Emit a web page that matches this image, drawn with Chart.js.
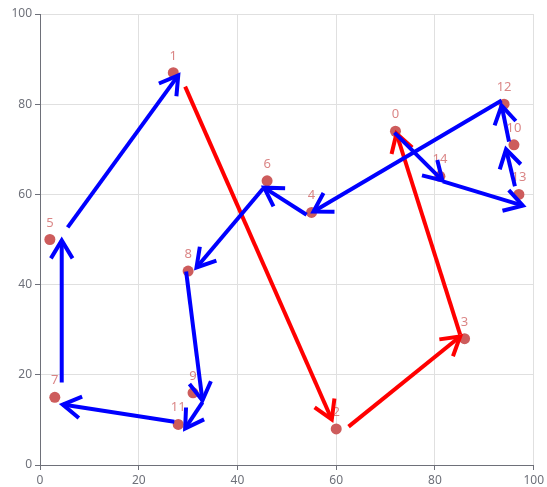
<!DOCTYPE html>
<html>
<head>
<meta charset="utf-8">
<script src="https://cdn.jsdelivr.net/npm/chart.js@4/dist/chart.umd.min.js"></script>
<style>
html, body { margin: 0; padding: 0; background: #fff; }
#wrap { width: 547px; height: 487px; }
</style>
</head>
<body>
<div id="wrap"><canvas id="chart"></canvas></div>
<script>
// points (index label = position in list)
var pointX = [72, 27, 60, 86, 55, 2, 46, 3, 30, 31, 96, 28, 94, 97, 81];
var pointY = [74, 87, 8, 28, 56, 50, 63, 15, 43, 16, 71, 9, 80, 60, 64];

// arrows: start / end in data units, route A or B
var arrowFromX = [85.1, 29.4, 62.5, 71.8, 81.6, 96.2, 95.0, 93.5, 54.0, 45.2, 29.6, 32.9, 27.2, 4.4, 5.6];
var arrowFromY = [28.9, 83.9, 8.5, 73.7, 62.9, 61.8, 71.7, 80.8, 55.5, 61.3, 42.9, 13.9, 9.6, 18.3, 52.7];
var arrowToX = [72.2, 59.1, 85.1, 81.5, 97.8, 94.4, 93.5, 55.4, 45.4, 31.7, 32.9, 29.4, 4.6, 4.4, 28.0];
var arrowToY = [73.5, 10.1, 28.5, 63.1, 57.5, 70.0, 79.7, 56.2, 61.5, 43.8, 14.3, 8.1, 13.4, 49.8, 86.4];
var arrowRoute = ['A', 'A', 'A', 'B', 'B', 'B', 'B', 'B', 'B', 'B', 'B', 'B', 'B', 'B', 'B'];

var routeColors = { A: '#ff0000', B: '#0000ff' };
var FONT = '"Noto Sans", "DejaVu Sans", sans-serif';

var points = pointX.map(function (x, i) { return { x: x, y: pointY[i] }; });

var labelsAndArrows = {
	id: 'labelsAndArrows',
	afterDatasetsDraw: function (chart) {
		var ctx = chart.ctx;
		var xs = chart.scales.x, ys = chart.scales.y;
		ctx.save();
		// index labels
		ctx.font = '13px ' + FONT;
		ctx.fillStyle = 'rgba(205,92,92,0.75)';
		ctx.textAlign = 'center';
		ctx.textBaseline = 'alphabetic';
		for (var i = 0; i < pointX.length; i++) {
			ctx.fillText(String(i), xs.getPixelForValue(pointX[i]), ys.getPixelForValue(pointY[i]) - 13);
		}
		// arrows
		ctx.lineWidth = 4;
		ctx.lineCap = 'butt';
		ctx.lineJoin = 'miter';
		for (var j = 0; j < arrowFromX.length; j++) {
			var x1 = xs.getPixelForValue(arrowFromX[j]), y1 = ys.getPixelForValue(arrowFromY[j]);
			var x2 = xs.getPixelForValue(arrowToX[j]), y2 = ys.getPixelForValue(arrowToY[j]);
			var ang = Math.atan2(y2 - y1, x2 - x1);
			var len = 21, spread = Math.PI / 5.8;
			ctx.strokeStyle = routeColors[arrowRoute[j]];
			ctx.beginPath();
			ctx.moveTo(x1, y1);
			ctx.lineTo(x2, y2);
			ctx.stroke();
			ctx.beginPath();
			ctx.moveTo(x2 - len * Math.cos(ang - spread), y2 - len * Math.sin(ang - spread));
			ctx.lineTo(x2, y2);
			ctx.lineTo(x2 - len * Math.cos(ang + spread), y2 - len * Math.sin(ang + spread));
			ctx.stroke();
		}
		ctx.restore();
	}
};

var axisOpts = function (fit) {
	return {
		type: 'linear',
		min: 0,
		max: 100,
		ticks: { stepSize: 20, color: '#6e7079', font: { size: 12, family: FONT }, padding: 3 },
		grid: { color: '#e0e0e0', tickColor: '#6e7079', tickLength: 5 },
		border: { color: '#6e7079', width: 1 },
		afterFit: fit
	};
};

window.onload = function () {
	new Chart(document.getElementById('chart'), {
		type: 'scatter',
		data: {
			datasets: [{
				data: points,
				backgroundColor: '#cd5c5c',
				borderWidth: 0,
				pointRadius: 5.5,
				pointHoverRadius: 5.5
			}]
		},
		options: {
			responsive: true,
			maintainAspectRatio: false,
			animation: false,
			layout: { padding: { left: 0, top: 14, right: 11, bottom: 0 } },
			plugins: { legend: { display: false }, tooltip: { enabled: false } },
			scales: {
				x: axisOpts(function (s) { s.height = 22; }),
				y: axisOpts(function (s) { s.width = 40; })
			}
		},
		plugins: [labelsAndArrows]
	});
};
</script>
</body>
</html>
